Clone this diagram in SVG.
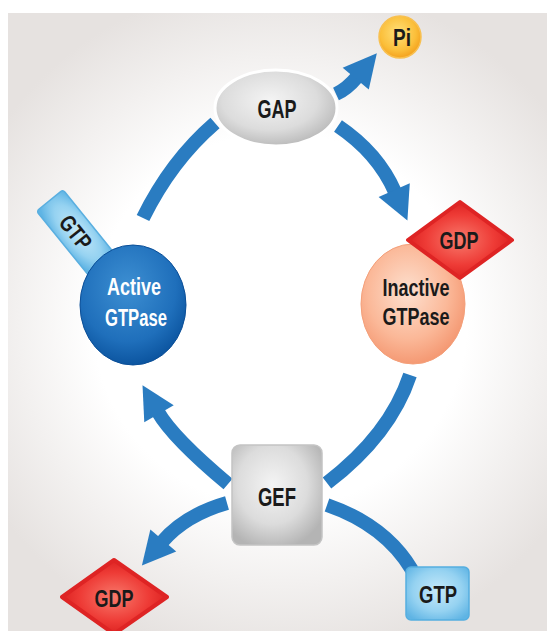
<svg xmlns="http://www.w3.org/2000/svg" width="547" height="631" viewBox="0 0 547 631">
<defs>
<radialGradient id="bg" gradientUnits="userSpaceOnUse" cx="280" cy="320" r="340">
<stop offset="0" stop-color="#ffffff"/><stop offset="0.55" stop-color="#ffffff"/><stop offset="1" stop-color="#e6e2e0"/>
</radialGradient>
<radialGradient id="gray" cx="0.45" cy="0.4" r="0.65">
<stop offset="0" stop-color="#f4f4f4"/><stop offset="0.6" stop-color="#dcdcdc"/><stop offset="1" stop-color="#b4b4b4"/>
</radialGradient>
<radialGradient id="blue" cx="0.45" cy="0.35" r="0.65">
<stop offset="0" stop-color="#3d8fd2"/><stop offset="0.7" stop-color="#1f6fbb"/><stop offset="1" stop-color="#0c55a0"/>
</radialGradient>
<radialGradient id="peach" cx="0.45" cy="0.4" r="0.65">
<stop offset="0" stop-color="#fde0cf"/><stop offset="0.6" stop-color="#fbb898"/><stop offset="1" stop-color="#f3926b"/>
</radialGradient>
<radialGradient id="red" cx="0.5" cy="0.5" r="0.55">
<stop offset="0" stop-color="#f87a6c"/><stop offset="0.6" stop-color="#ee3b36"/><stop offset="1" stop-color="#d81c1c"/>
</radialGradient>
<radialGradient id="lblue" cx="0.5" cy="0.45" r="0.65">
<stop offset="0" stop-color="#c6e9f9"/><stop offset="0.6" stop-color="#95d2f1"/><stop offset="1" stop-color="#5fb4e4"/>
</radialGradient>
<radialGradient id="orange" cx="0.45" cy="0.4" r="0.6">
<stop offset="0" stop-color="#ffe07a"/><stop offset="0.7" stop-color="#fbbf3a"/><stop offset="1" stop-color="#f4a21e"/>
</radialGradient>
<marker id="head" markerUnits="userSpaceOnUse" markerWidth="40" markerHeight="40" refX="2" refY="0" viewBox="0 -20 40 40" orient="auto" overflow="visible">
<path d="M0,-17 L33,0 L0,17 z" fill="#2a7cc1"/>
</marker>
</defs>
<style>
.arc{fill:none;stroke:#2a7cc1;stroke-width:14;stroke-linecap:butt}
.t{font-family:"Liberation Sans",Arial,sans-serif;font-weight:bold;text-anchor:middle;fill:#1a1a1a}
.w{fill:#ffffff}
.dia{fill:url(#red);stroke:#de2424;stroke-width:4;stroke-linejoin:round}
.box{fill:url(#lblue);stroke:#55aee0;stroke-width:1.5}
</style>
<rect x="8" y="13" width="539" height="618" fill="url(#bg)"/>
<g id="connectors">
<path class="arc" d="M336,94 Q347,89 357,77" marker-end="url(#head)"/>
<path class="arc" d="M215,123 Q171,161 143,218"/>
<path class="arc" d="M338,126 Q378,153 395,192" marker-end="url(#head)"/>
<path class="arc" d="M410,375 Q390,435 327,483"/>
<path class="arc" d="M228,484 Q173,438 158,412" marker-end="url(#head)"/>
<path class="arc" d="M227,503 Q185,515 162,542" marker-end="url(#head)"/>
<path class="arc" d="M327,505 Q385,525 412,570"/>
</g>
<g id="pi">
<circle cx="400" cy="37" r="21" fill="url(#orange)" stroke="#f8c050" stroke-width="1.5"/>
<text class="t" x="402" y="46" font-size="24" textLength="18" lengthAdjust="spacingAndGlyphs">Pi</text>
</g>
<g id="gap">
<ellipse cx="276" cy="108" rx="61" ry="38" fill="url(#gray)" stroke="#ffffff" stroke-width="3"/>
<text class="t" x="277" y="118" font-size="25" textLength="39" lengthAdjust="spacingAndGlyphs">GAP</text>
</g>
<g id="active">
<g transform="translate(51,202) rotate(51)">
<rect x="-2" y="-17" width="84" height="34" rx="3" fill="url(#lblue)" stroke="#5aafe0" stroke-width="1.5"/>
<text class="t" x="39" y="8" font-size="23" textLength="37" lengthAdjust="spacingAndGlyphs">GTP</text>
</g>
<ellipse cx="133" cy="305" rx="53" ry="60" fill="url(#blue)" stroke="#0b4f98" stroke-width="1"/>
<text class="t w" x="134" y="295" font-size="23" textLength="54" lengthAdjust="spacingAndGlyphs">Active</text>
<text class="t w" x="136" y="326" font-size="23" textLength="62" lengthAdjust="spacingAndGlyphs">GTPase</text>
</g>
<g id="inactive">
<ellipse cx="413" cy="304" rx="52" ry="60" fill="url(#peach)" stroke="#f4a07a" stroke-width="1"/>
<path class="dia" d="M408,240 L460,202 L512,240 L460,278 Z"/>
<text class="t" x="459" y="249" font-size="23" textLength="39" lengthAdjust="spacingAndGlyphs">GDP</text>
<text class="t" x="416" y="296" font-size="24" textLength="67" lengthAdjust="spacingAndGlyphs">Inactive</text>
<text class="t" x="416" y="325" font-size="24" textLength="67" lengthAdjust="spacingAndGlyphs">GTPase</text>
</g>
<g id="gef">
<rect x="232" y="445" width="90" height="100" rx="8" fill="url(#gray)" stroke="#c4c4c4" stroke-width="1.5"/>
<text class="t" x="277" y="506" font-size="25" textLength="38" lengthAdjust="spacingAndGlyphs">GEF</text>
</g>
<g id="gdp-out">
<path class="dia" d="M62,597 L114,560 L167,597 L114,634 Z"/>
<text class="t" x="114" y="607" font-size="24" textLength="39" lengthAdjust="spacingAndGlyphs">GDP</text>
</g>
<g id="gtp-in">
<rect class="box" x="406" y="567" width="63" height="53" rx="5"/>
<text class="t" x="438" y="603" font-size="24" textLength="38" lengthAdjust="spacingAndGlyphs">GTP</text>
</g>
</svg>
